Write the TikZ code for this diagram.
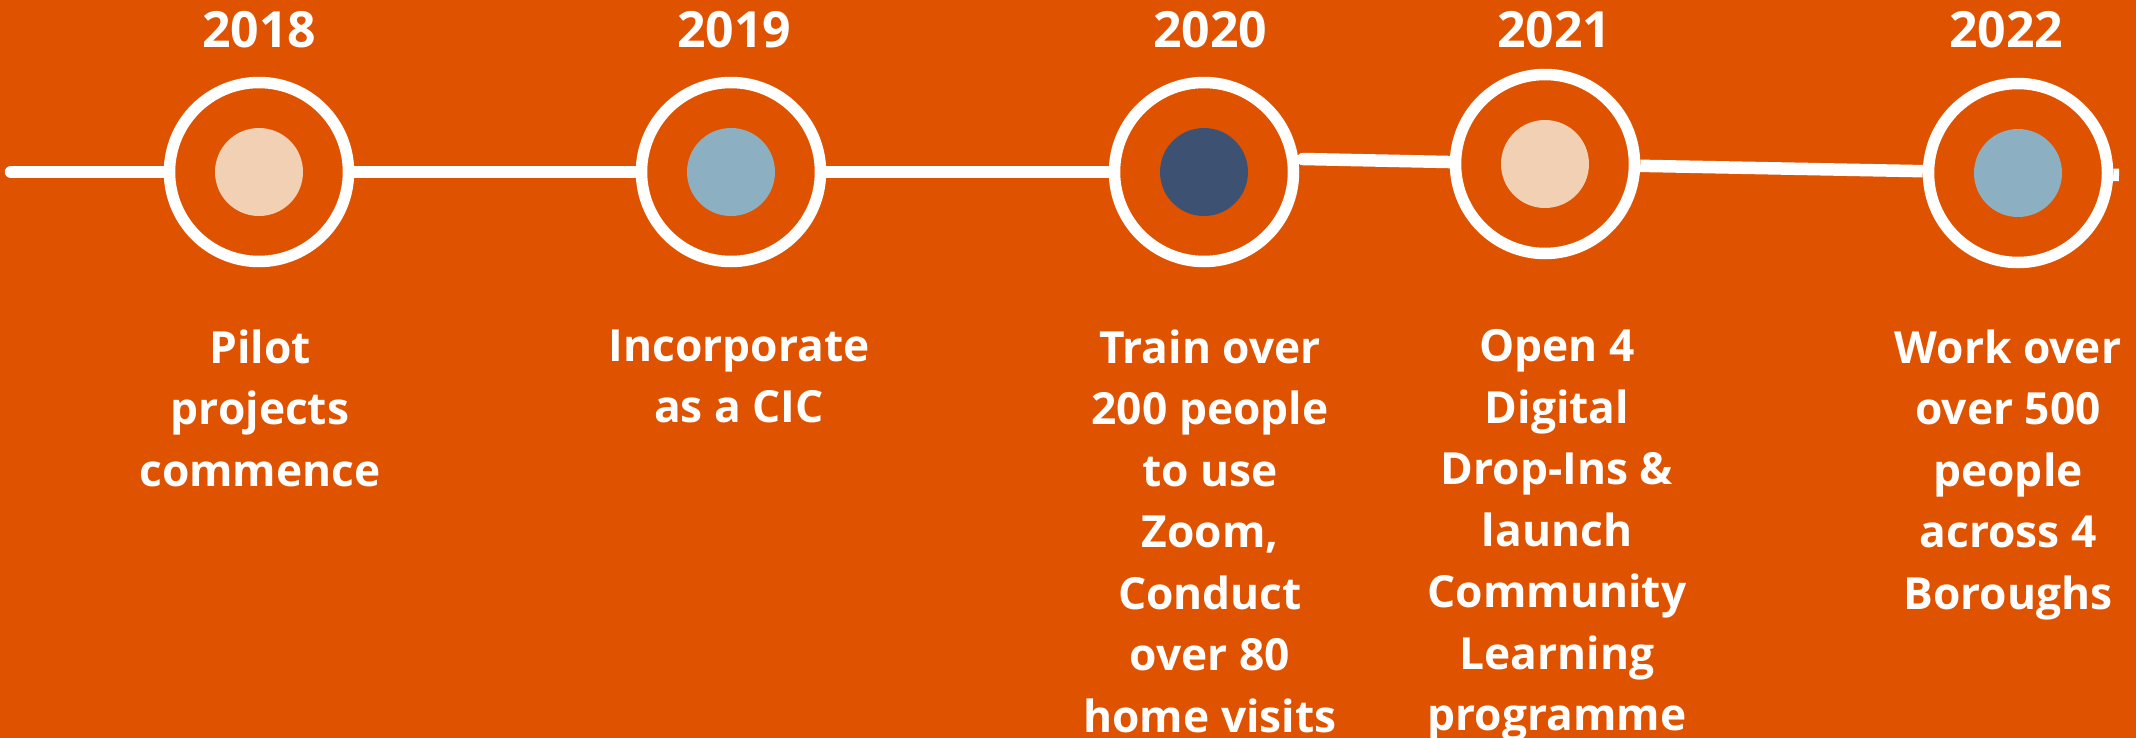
\documentclass[tikz,border=0pt]{standalone}
\usepackage{fontspec}
\setmainfont{Open Sans}
\usetikzlibrary{positioning}

\definecolor{bgorange}{HTML}{DF5200}
\definecolor{peach}{HTML}{F2D0B4}
\definecolor{skyblue}{HTML}{8DAFC2}
\definecolor{navy}{HTML}{3D5272}

\tikzset{
  ring/.style={circle, draw=white, line width=1.15mm, fill=bgorange, minimum size=17.9mm, inner sep=0pt},
  dot/.style={circle, minimum size=8.8mm, inner sep=0pt},
  tline/.style={draw=white, line width=1.25mm},
  year/.style={text=white, font=\bfseries\fontsize{14.2}{16}\selectfont, anchor=base, inner sep=0pt},
  desc/.style={text=white, font=\bfseries\fontsize{12.6}{17.5}\selectfont, align=center, anchor=north, inner sep=0pt}
}

\begin{document}
\begin{tikzpicture}[x=0.1mm, y=-0.1mm]
        % Background
        \fill[bgorange] (0,0) rectangle (2136,738);
        \useasboundingbox (0,0) rectangle (2136,738);

        % Milestones
        \foreach \n/\x/\y/\col in {18/259/172/peach, 19/731/172/skyblue, 20/1204/172/navy, 21/1545/164/peach, 22/2018/173/skyblue} {
            \node[ring] (c\n) at (\x,\y) {};
            \node[dot, fill=\col] (d\n) at (c\n) {};
        }

        % Timeline
        \coordinate (tstart) at (11,172);
        \coordinate (tjoin) at (1303,159);
        \coordinate (tend) at (2119,175);
        \draw[tline, line cap=round] (tstart) -- (c18);
        \draw[tline] (c18) -- (c19);
        \draw[tline] (c19) -- (c20);
        \draw[tline, line cap=round] (tjoin) -- (c21);
        \draw[tline] (c21) -- (c22);
        \draw[tline] (c22) -- (tend);

        % Years
        \foreach \n/\x in {18/259, 19/734, 20/1210, 21/1554, 22/2006} {
            \node[year] (y\n) at (\x,47) {20\n};
        }

        % Descriptions
        \node[desc] (t18) at (260,329) {Pilot\\projects\\commence};
        \node[desc] (t19) at (739,329) {Incorporate\\as a CIC};
        \node[desc] (t20) at (1210,329) {Train over\\200 people\\to use\\Zoom,\\Conduct\\over 80\\home visits};
        \node[desc] (t21) at (1557,329) {Open 4\\Digital\\Drop-Ins \&\\launch\\Community\\Learning\\programme};
        \node[desc] (t22) at (2008,329) {Work over\\over 500\\people\\across 4\\Boroughs};
    \end{tikzpicture}
\end{document}
